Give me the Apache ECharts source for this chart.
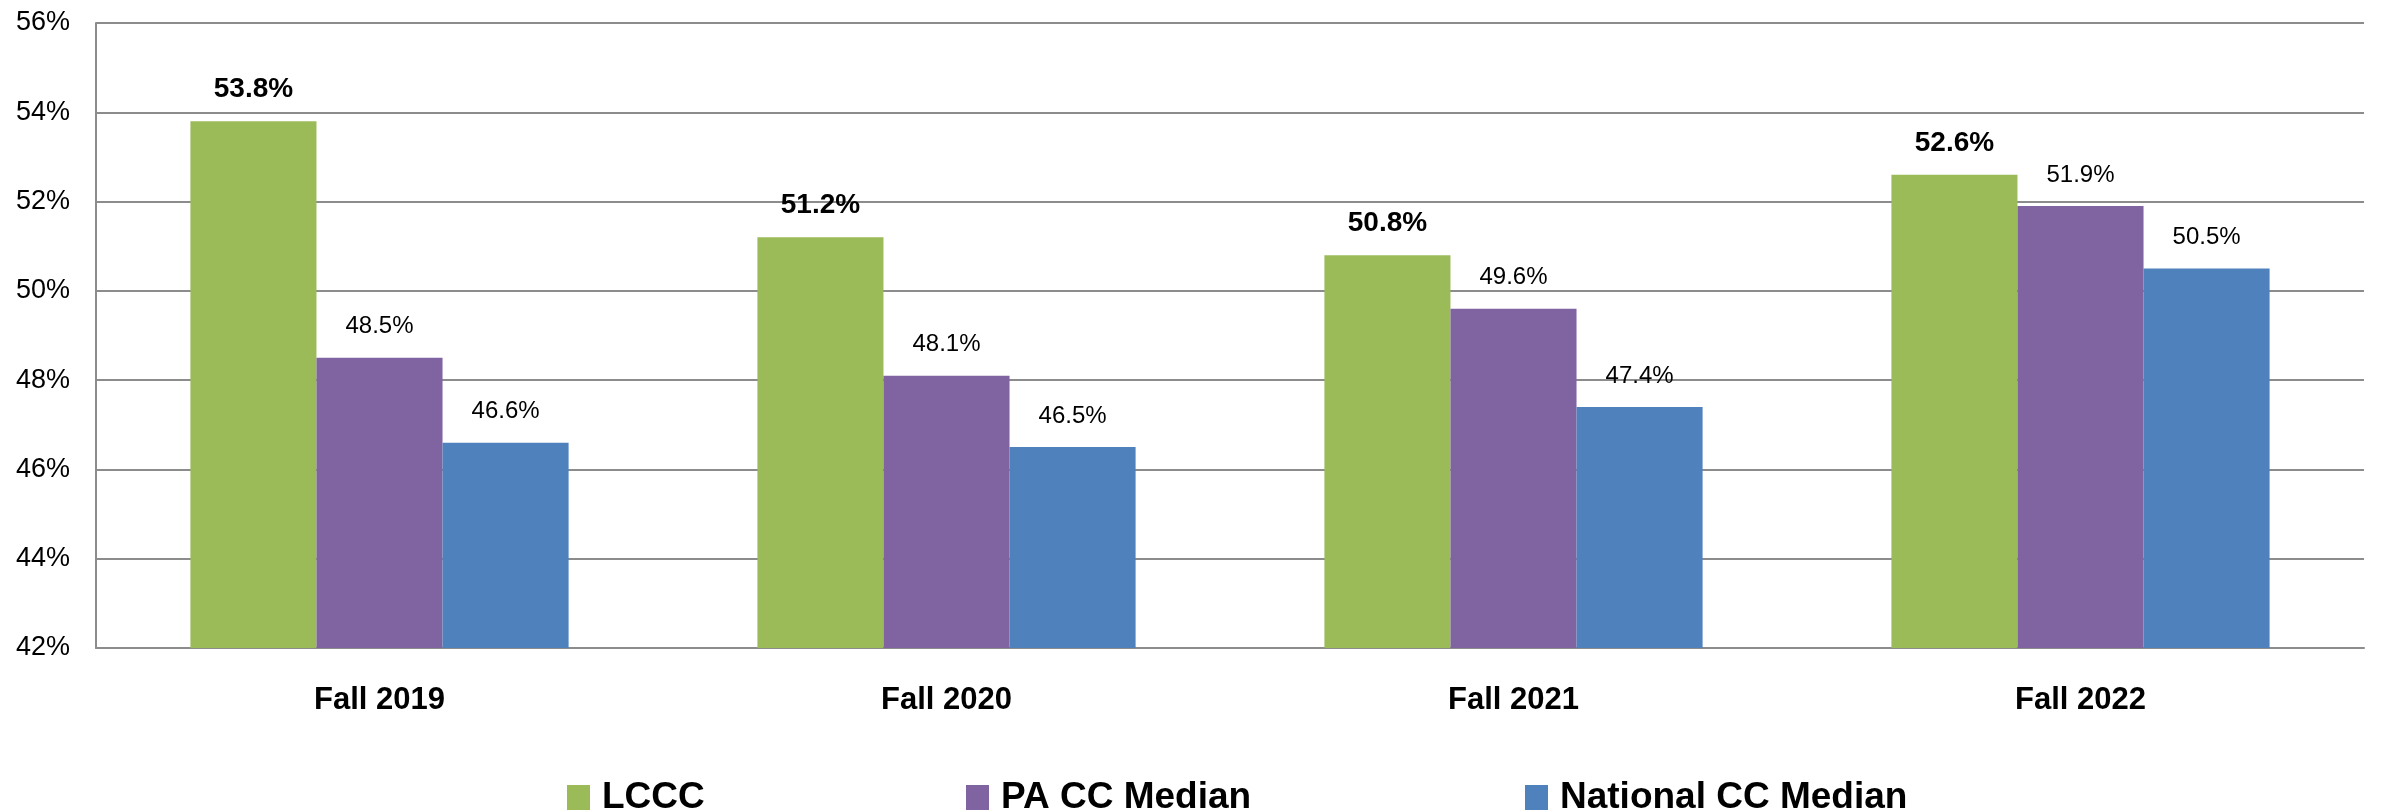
<!DOCTYPE html>
<html>
<head>
<meta charset="utf-8">
<script src="https://cdn.jsdelivr.net/npm/echarts@6/dist/echarts.min.js"></script>
<style>
html,body{margin:0;padding:0;background:#fff;}
#chart{width:2381px;height:810px;}
</style>
</head>
<body>
<div id="chart"></div>
<script>
const categories = ['Fall 2019', 'Fall 2020', 'Fall 2021', 'Fall 2022'];
const lccc = [53.8, 51.2, 50.8, 52.6];
const paMedian = [48.5, 48.1, 49.6, 51.9];
const nationalMedian = [46.6, 46.5, 47.4, 50.5];
const seriesNames = ['LCCC', 'PA CC Median', 'National CC Median'];
const legendLefts = [567, 966, 1525];

const FONT = 'Liberation Sans, Arial, sans-serif';
const chart = echarts.init(document.getElementById('chart'), null, {renderer: 'canvas'});
const pct = p => p.value.toFixed(1) + '%';

const legends = seriesNames.map((n, i) => ({
  data: [n],
  left: legendLefts[i],
  top: 779,
  padding: 0,
  itemWidth: 23,
  itemHeight: 25,
  icon: 'rect',
  selectedMode: false,
  textStyle: {fontFamily: FONT, fontSize: 37, fontWeight: 'bold', color: '#000', padding: [0, 0, 0, 7]}
}));

chart.setOption({
  animation: false,
  backgroundColor: '#ffffff',
  textStyle: {fontFamily: FONT},
  grid: {left: 96, right: 17, top: 23, bottom: 162, containLabel: false},
  legend: legends,
  xAxis: {
    type: 'category',
    data: categories,
    axisLine: {show: true, lineStyle: {color: '#8c8c8c', width: 2}},
    axisTick: {show: false},
    axisLabel: {fontFamily: FONT, fontSize: 31, fontWeight: 'bold', color: '#000', margin: 37}
  },
  yAxis: {
    type: 'value',
    min: 42,
    max: 56,
    interval: 2,
    axisLine: {show: true, lineStyle: {color: '#8c8c8c', width: 2}},
    axisTick: {show: false},
    splitLine: {show: true, lineStyle: {color: '#8c8c8c', width: 2}},
    axisLabel: {fontFamily: FONT, fontSize: 27, color: '#000', margin: 26, formatter: '{value}%'}
  },
  series: [
    {
      name: seriesNames[0], type: 'bar', data: lccc,
      barGap: '0%', barCategoryGap: '33.3%',
      itemStyle: {color: '#9BBB59'},
      label: {show: true, position: 'top', distance: 18, formatter: pct,
        fontFamily: FONT, fontSize: 28, fontWeight: 'bold', color: '#000'}
    },
    {
      name: seriesNames[1], type: 'bar', data: paMedian,
      barGap: '0%', barCategoryGap: '33.3%',
      itemStyle: {color: '#8064A2'},
      label: {show: true, position: 'top', distance: 19, formatter: pct,
        fontFamily: FONT, fontSize: 24, color: '#000'}
    },
    {
      name: seriesNames[2], type: 'bar', data: nationalMedian,
      barGap: '0%', barCategoryGap: '33.3%',
      itemStyle: {color: '#4F81BD'},
      label: {show: true, position: 'top', distance: 19, formatter: pct,
        fontFamily: FONT, fontSize: 24, color: '#000'}
    }
  ]
});
</script>
</body>
</html>
